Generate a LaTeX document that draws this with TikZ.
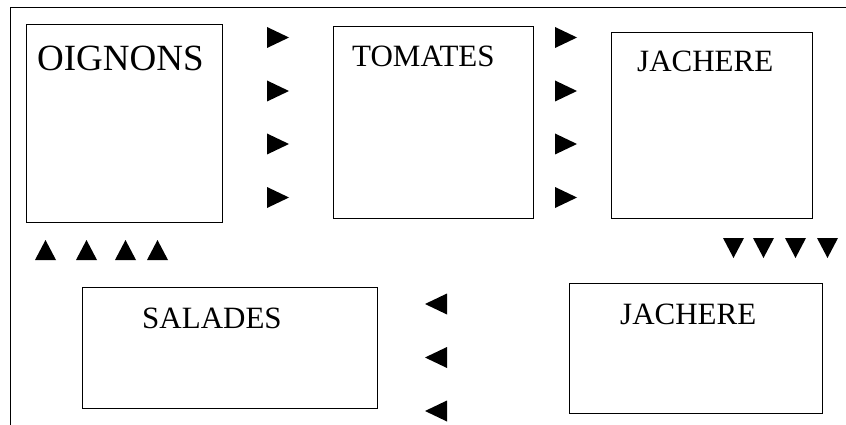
\documentclass[tikz,border=0pt]{standalone}
\usepackage{fontspec}
\setmainfont{Liberation Serif}
\begin{document}
\begin{tikzpicture}[x=1pt,y=-1pt,
  field/.style={draw, line width=1pt, anchor=north west, inner sep=0pt},
  lbl/.style={anchor=base west, inner sep=0pt, font=\fontsize{31}{31}\selectfont},
  tri/.style={fill=black}]
\useasboundingbox (0,0) rectangle (846,425);
% outer frame (left and top only)
\draw[line width=1pt] (10.5,425) -- (10.5,8) -- (846,8);
% fields
\node[field, minimum width=196pt, minimum height=198pt] (oig) at (26,24) {};
\node[field, minimum width=200pt, minimum height=192pt] (tom) at (333,26) {};
\node[field, minimum width=201pt, minimum height=186pt] (jac1) at (611,32) {};
\node[field, minimum width=295pt, minimum height=121pt] (sal) at (82,287) {};
\node[field, minimum width=253pt, minimum height=130pt] (jac2) at (569,283) {};
% labels
\node[lbl, font=\fontsize{37}{37}\selectfont] (toig) at (37,71) {OIGNONS};
\node[lbl] (ttom) at (352,67) {TOMATES};
\node[lbl] (tjac1) at (637,72) {JACHERE};
\node[lbl] (tsal) at (142,328) {SALADES};
\node[lbl] (tjac2) at (620,324) {JACHERE};
% right-pointing triangles
\foreach \cx in {267,555}{
  \foreach \cy in {37.5,91,144,197.5}{
    \fill[tri] (\cx,\cy-10.5) -- (\cx+22,\cy) -- (\cx,\cy+10.5) -- cycle;
  }}
% up triangles
\foreach \lx in {35,76,115,147}{
  \fill[tri] (\lx,260) -- (\lx+10.5,240) -- (\lx+21,260) -- cycle;
}
% down triangles
\foreach \lx in {723,753,785,817}{
  \fill[tri] (\lx,238) -- (\lx+10.5,258) -- (\lx+21,238) -- cycle;
}
% left triangles
\foreach \cy in {304,357.5,411}{
  \fill[tri] (447,\cy-10.5) -- (425,\cy) -- (447,\cy+10.5) -- cycle;
}
\end{tikzpicture}
\end{document}
